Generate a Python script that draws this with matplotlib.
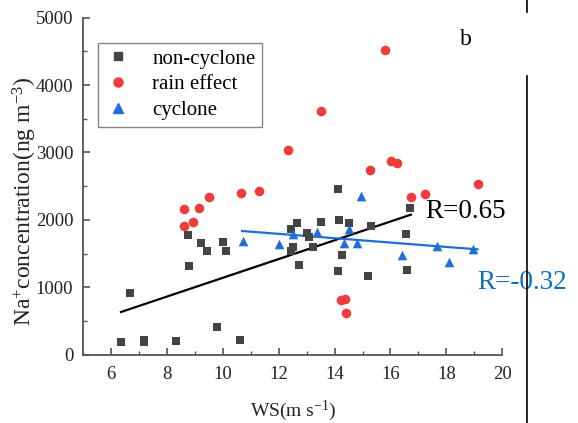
import matplotlib
matplotlib.use("Agg")
import matplotlib.pyplot as plt
from matplotlib.lines import Line2D
from matplotlib.ticker import MultipleLocator

plt.rcParams['font.family'] = ['Liberation Serif', 'DejaVu Serif']
plt.rcParams['mathtext.fontset'] = 'custom'
plt.rcParams['mathtext.rm'] = 'Liberation Serif'
plt.rcParams['mathtext.it'] = 'Liberation Serif:italic'

# ---- data ----
noncyc_x = [6.36, 6.67, 7.2, 7.2, 8.33, 8.74, 8.81, 9.23, 9.44, 9.80, 10.0, 10.11, 10.62,
            12.43, 12.67, 12.43, 12.52, 12.74, 13.03, 13.10, 13.24, 13.51, 14.13, 14.15,
            14.13, 14.25, 14.50, 15.21, 15.31, 16.56, 16.58, 16.70]
noncyc_y = [197, 923, 225, 185, 207, 1778, 1323, 1654, 1546, 410, 1669, 1546, 217,
            1867, 1960, 1546, 1595, 1329, 1802, 1753, 1605, 1975, 2464, 2000,
            1249, 1477, 1951, 1170, 1916, 1797, 1264, 2182]

rain_x = [15.81, 13.51, 12.34, 15.27, 16.01, 16.23, 19.13, 9.49, 10.66, 11.30, 16.74, 17.24,
          8.62, 8.63, 8.93, 9.16, 14.22, 14.39, 14.41]
rain_y = [4519, 3610, 3042, 2746, 2869, 2849, 2538, 2336, 2395, 2430, 2336, 2385,
          2158, 1916, 1965, 2173, 815, 834, 627]

cyc_x = [10.71, 12.0, 12.52, 13.36, 14.34, 14.50, 14.94, 14.82, 16.40, 17.66, 18.08, 18.96]
cyc_y = [1685, 1645, 1795, 1820, 1655, 1870, 2355, 1655, 1478, 1622, 1380, 1572]

# linear fit lines (end points)
fit_noncyc_x = [6.36, 16.73]
fit_noncyc_y = [637, 2079]
fit_cyc_x = [10.69, 19.11]
fit_cyc_y = [1837, 1565]

labels = ['non-cyclone', 'rain effect', 'cyclone']
r_noncyc = 'R=0.65'
r_cyc = 'R=-0.32'

# ---- plot ----
fig = plt.figure(figsize=(5.78, 4.23), dpi=100)
ax = fig.add_axes([0.1436, 0.1608, 0.869 - 0.1436, 0.9586 - 0.1608])

c_sq = '#444444'
c_red = '#EE3B3B'
c_blue = '#1E6FD9'
c_txtblue = '#0A70C0'

ax.plot(fit_noncyc_x, fit_noncyc_y, color='black', lw=1.6, zorder=2)
ax.plot(fit_cyc_x, fit_cyc_y, color=c_blue, lw=1.6, zorder=2)

ax.scatter(noncyc_x, noncyc_y, marker='s', s=36, color=c_sq, lw=0, zorder=3, clip_on=False)
ax.scatter(rain_x, rain_y, marker='o', s=48, color=c_red, lw=0, zorder=3, clip_on=False)
ax.scatter(cyc_x, cyc_y, marker='^', s=48, color=c_blue, lw=0, zorder=3, clip_on=False)

ax.set_xlim(5, 20)
ax.set_ylim(0, 5000)
ax.xaxis.set_minor_locator(MultipleLocator(1))
ax.yaxis.set_major_locator(MultipleLocator(1000))
ax.yaxis.set_minor_locator(MultipleLocator(500))
ax.set_xticks([6, 8, 10, 12, 14, 16, 18, 20])

for s in ['top', 'right']:
    ax.spines[s].set_visible(False)
for s in ['left', 'bottom']:
    ax.spines[s].set_color('#555555')
    ax.spines[s].set_linewidth(1.3)

ax.tick_params(which='major', direction='in', length=5, width=1.2, color='#555555',
               labelsize=13.5, labelcolor='#222222')
ax.tick_params(which='minor', direction='in', length=3, width=1.0, color='#555555')
ax.tick_params(axis='y', which='major', pad=7)
ax.tick_params(axis='x', which='major', pad=8)

ax.set_xlabel(r'WS(m s$^{\mathrm{-1}}$)', fontsize=14, labelpad=11, color='#222222')
ax.set_ylabel(r'Na$^{\mathrm{+}}$concentration(ng m$^{\mathrm{-3}}$)', fontsize=17,
              color='#222222')
ax.yaxis.set_label_coords(-0.105, 0.455)

handles = [
    Line2D([], [], marker='s', color=c_sq, ls='none', markersize=5.5),
    Line2D([], [], marker='o', color=c_red, ls='none', markersize=6.5),
    Line2D([], [], marker='^', color=c_blue, ls='none', markersize=6.5),
]
leg = ax.legend(handles, labels, loc='upper left', bbox_to_anchor=(0.036, 0.925),
                frameon=True, fancybox=False, fontsize=15, handletextpad=1.0,
                labelspacing=0.3, borderpad=0.3, handlelength=1.3, borderaxespad=0)
leg.get_frame().set_edgecolor('#666666')
leg.get_frame().set_linewidth(1.0)

ax.text(18.69, 4667, 'b', fontsize=17, ha='center', va='center', color='black')
ax.text(17.23, 2119, r_noncyc, fontsize=19.5, ha='left', va='center', color='black')
ax.text(19.12, 1067, r_cyc, fontsize=19.5, ha='left', va='center', color=c_txtblue,
        clip_on=False)

# right frame fragments
fig.add_artist(Line2D([527.3 / 578, 527.3 / 578], [1, 1 - 12 / 423], color='black', lw=1.2))
fig.add_artist(Line2D([527.3 / 578, 527.3 / 578], [1 - 76 / 423, 0], color='black', lw=1.2))

fig.savefig('out.png', dpi=100)
